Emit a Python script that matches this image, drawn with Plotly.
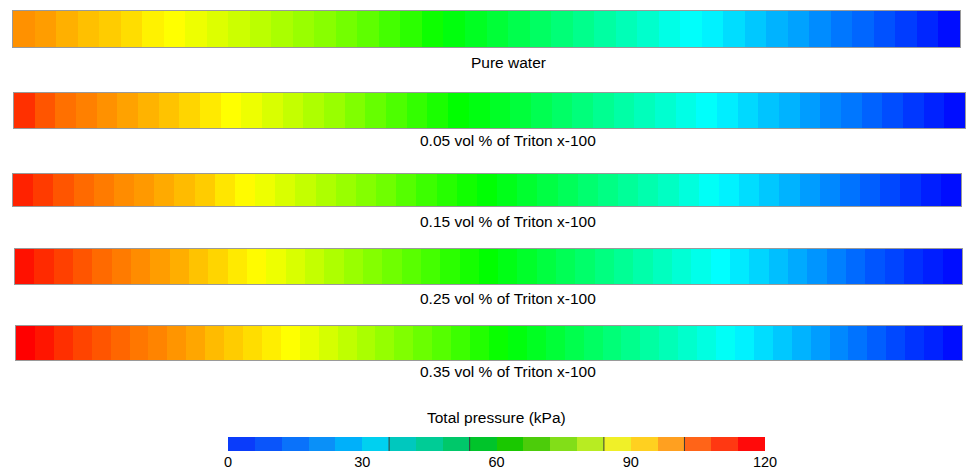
import plotly.graph_objects as go

# ---------------- data ----------------
bar_labels = [
    "Pure water",
    "0.05 vol % of Triton x-100",
    "0.15 vol % of Triton x-100",
    "0.25 vol % of Triton x-100",
    "0.35 vol % of Triton x-100",
]

# Total pressure (kPa) of each contour band along the pipe, left to right
pure_water = [103, 101.5, 99.3, 97.4, 96, 94, 91.5, 90, 88, 86, 84, 82, 80, 78, 76,
              73.5, 71, 68, 65, 61.5, 58.5, 56, 53.5, 51, 48.5, 46, 43.5, 41, 38.5, 36,
              33, 30.5, 28.5, 26, 23.5, 21, 19, 16.5, 14, 12, 9.5, 7, 4.5, 1.5]
triton_005 = [114.4, 110, 106.8, 105, 103, 101, 99, 97, 95, 92.5, 90, 88, 85.5, 83, 80.5,
              78, 75, 72, 69, 66, 63, 60, 58, 55.5, 53, 50.5, 48, 45.5, 43, 40.5,
              38, 35.5, 33, 30.5, 28, 25.5, 23, 21, 18.5, 16, 14, 11.5, 9, 6.5, 4, 1.5]
triton_015 = [116, 113, 110, 107.5, 105.5, 103.5, 102, 100, 98, 96, 93, 90.5, 88, 85.5, 83,
              80.5, 78, 75.5, 73, 70, 67, 64.5, 62, 59.5, 57, 54.5, 52, 49.5, 47, 44.5,
              42, 39.5, 37, 34, 31, 28.5, 26, 23.5, 21, 18.5, 16, 13.5, 11, 8.5, 6, 3.5, 1.5]
triton_025 = [118, 115, 112.5, 110, 107.5, 105.5, 103.5, 101.5, 99.5, 97, 95, 92.5, 90.5, 88, 85.5,
              83, 80.5, 78, 75.5, 73, 70.5, 68, 65, 62.5, 60, 57.5, 55, 52.5, 50, 47.5,
              45, 42.5, 40, 37.5, 35, 32.5, 30, 27.5, 25, 22.5, 20, 17.5, 15, 12.5, 10,
              8, 5.5, 3.5, 1.5]
triton_035 = [120, 117.5, 114.5, 112, 110, 108, 106, 104.5, 102.5, 100.5, 98, 96, 94, 92, 90,
              87.5, 85, 82.5, 80, 77.5, 75, 72.5, 70, 67, 64, 61, 58.5, 56, 53.5, 51,
              48.5, 46, 43.5, 41, 38.5, 36, 33.5, 31, 28.5, 26, 23.5, 21, 18.5, 16, 13.5,
              11, 8.5, 6, 4, 1.5]
series = [pure_water, triton_005, triton_015, triton_025, triton_035]

# legend (colour bar) levels, kPa
legend_edges = [0, 6, 12, 18, 24, 30, 36, 42, 48, 54, 60, 66, 72, 78, 84, 90, 96, 102, 108, 114, 120]
legend_colors = ["#0A3CFA", "#0A55FA", "#0A72FA", "#0A90F8", "#00B0FA", "#00D0F0",
                 "#00C8BE", "#00CC96", "#00C86A", "#00C42A", "#1AC800", "#4CCC0A",
                 "#82DE18", "#B8EC22", "#F0F028", "#FFD020", "#FFA020", "#FF6418",
                 "#FF3812", "#FF0A0A"]
legend_marks = [36, 54, 84, 102]
legend_ticks = [0, 30, 60, 90, 120]
legend_title = "Total pressure (kPa)"

# ---------------- layout geometry (pixels) ----------------
W, H = 970, 469
bar_boxes = [  # (x0, x1, ytop, ybottom, label_y)
    (13, 960, 11, 47, 62),
    (14, 965, 93, 128, 140),
    (13, 961, 174, 206, 221),
    (15, 962, 249, 284, 298),
    (16, 962, 326, 360, 371),
]
label_x = 508
cb_box = (228, 765, 437, 451)

rainbow = [[0.0, "#0000FF"], [0.25, "#00FFFF"], [0.5, "#00FF00"],
           [0.75, "#FFFF00"], [1.0, "#FF0000"]]

FONT = "Liberation Sans, Arial, sans-serif"
LABEL_SIZE = 15.5

fig = go.Figure()
layout = dict(
    width=W, height=H, autosize=False, margin=dict(l=0, r=0, t=0, b=0, pad=0),
    paper_bgcolor="white", plot_bgcolor="white", showlegend=False,
    font=dict(family=FONT, size=14, color="black"),
)
annotations = []

for i, (vals, box, lab) in enumerate(zip(series, bar_boxes, bar_labels)):
    k = i + 1
    xa = "x" if k == 1 else f"x{k}"
    ya = "y" if k == 1 else f"y{k}"
    fig.add_trace(go.Heatmap(
        z=[vals], x=list(range(len(vals))), y=[0],
        colorscale=rainbow, zmin=0, zmax=120, showscale=False,
        xaxis=xa, yaxis=ya, hoverinfo="z",
    ))
    x0, x1, yt, yb, ly = box
    axis_common = dict(showgrid=False, zeroline=False, showticklabels=False, ticks="",
                       automargin=False,
                       showline=True, mirror=True, linecolor="#9a9a9a", linewidth=1)
    layout["xaxis" if k == 1 else f"xaxis{k}"] = dict(
        domain=[x0 / W, x1 / W], range=[-0.5, len(vals) - 0.5],
        anchor=ya, **axis_common)
    layout["yaxis" if k == 1 else f"yaxis{k}"] = dict(
        domain=[1 - yb / H, 1 - yt / H], range=[-0.5, 0.5],
        anchor=xa, **axis_common)
    annotations.append(dict(
        text=lab, x=label_x / W, y=1 - ly / H, xref="paper", yref="paper",
        showarrow=False, xanchor="center", yanchor="middle",
        font=dict(family=FONT, size=LABEL_SIZE, color="black")))

# colour bar as its own axis
n = len(legend_colors)
cscale = []
for j, c in enumerate(legend_colors):
    cscale.append([j / n, c])
    cscale.append([(j + 1) / n, c])
fig.add_trace(go.Heatmap(
    z=[[j + 0.5 for j in range(n)]], x=legend_edges, y=[0, 1],
    colorscale=cscale, zmin=0, zmax=n, showscale=False,
    xaxis="x6", yaxis="y6", hoverinfo="skip",
))
cx0, cx1, cyt, cyb = cb_box
layout["xaxis6"] = dict(
    domain=[cx0 / W, cx1 / W], range=[legend_edges[0], legend_edges[-1]],
    anchor="y6", showgrid=False, zeroline=False, ticks="", showline=False, automargin=False,
    tickmode="array", tickvals=legend_ticks, ticktext=[str(t) for t in legend_ticks],
    tickfont=dict(family=FONT, size=14.5, color="black"))
layout["yaxis6"] = dict(
    domain=[1 - cyb / H, 1 - cyt / H], range=[0, 1], anchor="x6", automargin=False,
    showgrid=False, zeroline=False, showticklabels=False, ticks="", showline=False)
annotations.append(dict(
    text=legend_title, x=(cx0 + cx1) / 2 / W, y=1 - 417 / H, xref="paper", yref="paper",
    showarrow=False, xanchor="center", yanchor="middle",
    font=dict(family=FONT, size=LABEL_SIZE, color="black")))

shapes = []
for m in legend_marks:
    shapes.append(dict(type="line", xref="x6", yref="y6 domain", x0=m, x1=m, y0=0, y1=1,
                       line=dict(color="#3a3a3a", width=1)))

layout["annotations"] = annotations
layout["shapes"] = shapes
fig.update_layout(**layout)

page_fix = ("document.body.style.margin='0';document.body.style.padding='0';"
            "document.body.style.overflow='hidden';"
            "document.documentElement.style.overflow='hidden';")
fig.write_html("out.html", config={"responsive": False, "displayModeBar": False},
               post_script=page_fix)
